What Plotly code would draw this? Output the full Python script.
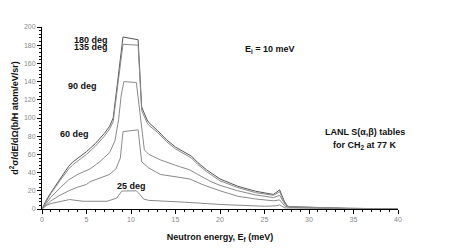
import plotly.graph_objects as go

# Data
e180_x = [0, 0.5, 1, 2, 3, 3.5, 5, 6, 7, 7.6, 8.0, 8.5, 9.1, 10.8, 11.2, 11.8, 12, 13, 14, 15, 16, 16.8, 17.5, 18.5, 20, 22, 24, 26, 26.7, 27.2, 27.6, 28, 30, 32, 34, 35, 36, 40]
e180_y = [0, 10, 18, 33, 47, 52, 63, 72, 83, 91, 100, 140, 189, 186, 112, 98, 95, 86, 76, 68, 62, 58, 51, 43, 33, 25, 19.5, 16, 21, 9, 3, 2.5, 2, 1.5, 1, 0.5, 0, 0]
e135_x = [0, 0.5, 1, 2, 3, 3.5, 5, 6, 7, 7.6, 8.0, 8.5, 9.1, 10.8, 11.2, 11.8, 12, 13, 14, 15, 16, 16.8, 17.5, 18.5, 20, 22, 24, 26, 26.7, 27.2, 27.6, 28, 30, 32, 34, 35, 36, 40]
e135_y = [0, 9, 17, 31, 44, 49, 60, 69, 80, 88, 96, 135, 181, 180, 108, 95, 92, 84, 74, 66, 60, 56, 49, 41, 31, 23.5, 18, 15, 19, 8, 2.5, 2.2, 1.8, 1.3, 0.9, 0.4, 0, 0]
e90_x = [0, 0.5, 1, 2, 3, 4, 5, 5.4, 6.5, 7.6, 8.2, 8.6, 8.9, 9.2, 10.6, 11.0, 11.5, 12, 13.3, 15, 16.6, 17.5, 19, 20, 22, 24, 26, 26.7, 27.3, 27.7, 28, 30, 32, 34, 35, 36, 40]
e90_y = [0, 7, 13, 23, 32, 38, 42, 44, 52, 62, 75, 98, 125, 140, 139, 105, 65, 60, 54, 48, 43, 38, 30, 26, 20, 15.5, 12.5, 15, 5, 2.5, 2, 1.6, 1.2, 0.8, 0.4, 0, 0]
e60_x = [0, 0.5, 1, 2, 3, 4, 5, 5.4, 6.5, 7.6, 8.3, 8.8, 9.1, 10.8, 11.2, 12, 13.3, 15, 16.6, 18, 20, 22, 24, 26, 26.7, 27.3, 27.7, 28, 30, 32, 34, 35, 36, 40]
e60_y = [0, 5, 9, 15, 20, 24, 27, 30, 34, 38, 44, 56, 85, 87, 52, 45, 38, 35, 33, 27, 20, 14, 11, 9, 10, 3, 2, 1.8, 1.4, 1.0, 0.7, 0.3, 0, 0]
e25_x = [0, 0.5, 1, 2, 3.1, 4.6, 7.3, 8.4, 8.95, 9.2, 10.6, 11.0, 11.4, 12, 13.3, 16, 20, 25, 26.3, 26.7, 27.3, 28, 30, 32, 34, 35, 36, 40]
e25_y = [0, 4, 6, 8.5, 10.4, 8.5, 8.5, 12, 19.6, 19.8, 20, 16, 11, 9.5, 8.6, 7.5, 5, 3, 3.5, 4.5, 1.2, 1.0, 0.8, 0.6, 0.4, 0.2, 0, 0]

series = [
    ("180 deg", e180_x, e180_y, "#555555"),
    ("135 deg", e135_x, e135_y, "#8a8a8a"),
    ("90 deg", e90_x, e90_y, "#8a8a8a"),
    ("60 deg", e60_x, e60_y, "#8a8a8a"),
    ("25 deg", e25_x, e25_y, "#8a8a8a"),
]

fig = go.Figure()
for name, xs, ys, col in series:
    fig.add_trace(go.Scatter(x=xs, y=ys, mode="lines", name=name,
                             line=dict(color=col, width=1)))

bold = dict(family="Liberation Sans", size=9, color="#111111")
labels = [
    ("<b>180 deg</b>", 5.56, 185.5),
    ("<b>135 deg</b>", 5.56, 177.5),
    ("<b>90 deg</b>", 4.5, 135.7),
    ("<b>60 deg</b>", 3.65, 81.9),
    ("<b>25 deg</b>", 10.1, 25.8),
    ("<b>E<sub>i</sub> = 10 meV</b>", 25.6, 175),
    ("<b>LANL S(α,β) tables</b>", 36.3, 85),
    ("<b>for CH<sub>2</sub> at 77 K</b>", 36.3, 70),
]
for t, x, y in labels:
    fig.add_annotation(text=t, x=x, y=y, xref="x", yref="y", showarrow=False,
                       font=bold, xanchor="center", yanchor="middle")

tickfont = dict(family="Liberation Sans", size=7, color="#888888")
fig.update_layout(
    width=449, height=244,
    margin=dict(l=34, r=59, t=19, b=42.5, autoexpand=False),
    paper_bgcolor="white", plot_bgcolor="white",
    showlegend=False,
    xaxis=dict(range=[0, 40], tickvals=[0, 5, 10, 15, 20, 25, 30, 35, 40], automargin=False,
               showgrid=False, zeroline=False, showline=True, linecolor="black", linewidth=1,
               ticks="outside", ticklen=4, tickcolor="black", tickfont=tickfont,
               minor=dict(dtick=1, ticks="outside", ticklen=2, tickcolor="black", showgrid=False),
               title=dict(text="<b>Neutron energy, E<sub>f</sub> (meV)</b>",
                          font=dict(family="Liberation Sans", size=9, color="#111111"), standoff=11)),
    yaxis=dict(range=[0, 200], tickvals=list(range(0, 201, 20)), automargin=False,
               showgrid=False, zeroline=False, showline=True, linecolor="black", linewidth=1,
               ticks="outside", ticklen=4, tickcolor="black", tickfont=tickfont,
               minor=dict(dtick=4, ticks="outside", ticklen=2, tickcolor="black", showgrid=False),
               title=dict(text="<b>d<sup>2</sup>σ/dE/dΩ(b/H atom/eV/sr)</b>",
                          font=dict(family="Liberation Sans", size=9, color="#111111"), standoff=4)),
)

fig.write_html("out.html")
